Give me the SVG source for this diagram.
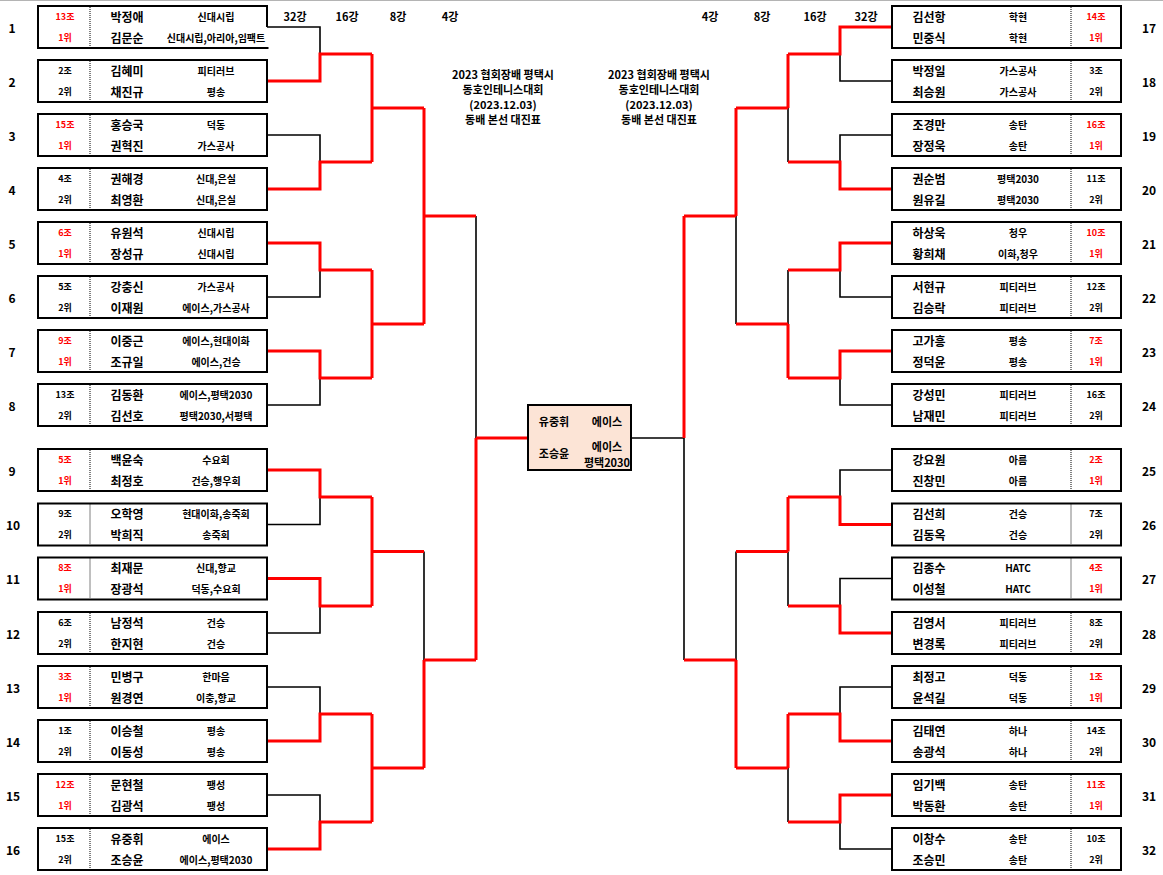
<svg xmlns="http://www.w3.org/2000/svg" width="1163" height="875" viewBox="0 0 1163 875">
<style>
text{font-family:"Noto Sans CJK KR","Noto Sans",sans-serif;font-weight:700;fill:#000;dominant-baseline:central;text-anchor:middle}
.box{fill:#fff;stroke:#000;stroke-width:2}
.dot{stroke:#000;stroke-width:1;stroke-dasharray:1 1}
.nm{font-size:12px}
.cl{font-size:10px}
.gr{font-size:9px}
.no{font-size:12px}
.rd{fill:#ff0000}
.rnd{font-size:11px}
.ttl{font-size:11px}
.ct{font-size:11px}
.blk{fill:none;stroke:#000;stroke-width:1.6}
.red{fill:none;stroke:#ff0000;stroke-width:3}
</style>
<rect width="1163" height="875" fill="#fff"/>
<line x1="0" y1="0.5" x2="1163" y2="0.5" stroke="#b4b4b4" stroke-width="1"/>

<g id="round-labels">
<text class="rnd" x="295" y="16">32강</text>
<text class="rnd" x="347" y="16">16강</text>
<text class="rnd" x="398" y="16">8강</text>
<text class="rnd" x="450" y="16">4강</text>
<text class="rnd" x="710" y="16">4강</text>
<text class="rnd" x="762" y="16">8강</text>
<text class="rnd" x="815" y="16">16강</text>
<text class="rnd" x="866" y="16">32강</text>
</g>

<g id="title-left">
<text class="ttl" x="503" y="74">2023 협회장배 평택시</text>
<text class="ttl" x="503" y="89">동호인테니스대회</text>
<text class="ttl" x="503" y="104">(2023.12.03)</text>
<text class="ttl" x="503" y="119">동배 본선 대진표</text>
</g>
<g id="title-right">
<text class="ttl" x="659" y="74">2023 협회장배 평택시</text>
<text class="ttl" x="659" y="89">동호인테니스대회</text>
<text class="ttl" x="659" y="104">(2023.12.03)</text>
<text class="ttl" x="659" y="119">동배 본선 대진표</text>
</g>

<g id="connectors">
<path class="blk" d="M267,27 H320 V54 M268,135 H320 V162 M268,297 H320 V270 M268,405 H320 V378 M476,216 V438 M268,524.5 H320 V497 M268,633 H320 V606 M424,551.5 V660 M268,687 H320 V714 M268,795 H320 V822"/>
<path class="blk" d="M891,81 H840 V54 M788,108 V162 M891,135 H840 V162 M736,216 V324 M684,438 V660 M684,438 H632 M891,297 H840 V270 M788,270 V324 M891,405 H840 V378 M891,470 H840 V497 M788,551.5 V606 M891,578.5 H840 V606 M736,551.5 V660 M788,768 V822 M891,687 H840 V714 M891,849 H840 V822"/>
<path class="red" d="M268,81 H320 V54 H372 M268,189 H320 V162 H372 M372,54 V162 M372,108 H424 M268,243 H320 V270 H372 M268,351 H320 V378 H372 M372,270 V378 M372,324 H424 M424,108 V324 M424,216 H476 M476,438 H527 M476,438 V660 M424,660 H476 M424,660 V768 M372,551.5 H424 M372,768 H424 M268,470 H320 V497 H372 M268,578.5 H320 V606 H372 M372,497 V606 M268,741 H320 V714 H372 M268,849 H320 V822 H372 M372,714 V822"/>
<path class="red" d="M891,27 H840 V54 H788 M788,54 V108 M891,189 H840 V162 H788 M788,108 H736 M736,108 V216 M736,216 H684 M684,216 V438 M891,243 H840 V270 H788 M788,324 V378 M891,351 H840 V378 H788 M788,324 H736 M891,524.5 H840 V497 H788 M788,497 V551.5 M891,633 H840 V606 H788 M788,551.5 H736 M736,660 V768 M736,660 H684 M736,768 H788 M788,714 V768 M891,741 H840 V714 H788 M891,795 H840 V822 H788"/>
</g>

<g id="final">
<rect x="528" y="405" width="103" height="65" fill="#fce4d6" stroke="#000" stroke-width="2"/>
<text class="ct" x="554" y="421">유중휘</text>
<text class="ct" x="607" y="421">에이스</text>
<text class="ct" x="554" y="453">조승윤</text>
<text class="ct" x="607" y="446">에이스</text>
<text class="ct" x="607" y="462">평택2030</text>
</g>

<g id="p1" transform="translate(0,5)">
<path d="M267,22 V1 H38 V43 H268.5" fill="#fff" stroke="#000" stroke-width="2"/><line class="dot" x1="90" y1="2" x2="90" y2="42"/>
<text class="no" x="12" y="22">1</text>
<text class="gr rd" x="65" y="11">13조</text><text class="gr rd" x="65" y="32">1위</text>
<text class="nm" x="127" y="11">박정애</text><text class="cl" x="216" y="11">신대시립</text>
<text class="nm" x="127" y="32">김문순</text><text class="cl" x="216" y="32">신대시립,아리아,임팩트</text>
</g>
<g id="p2" transform="translate(0,59)">
<rect class="box" x="38" y="1" width="229" height="42"/><line class="dot" x1="90" y1="2" x2="90" y2="42"/>
<text class="no" x="12" y="22">2</text>
<text class="gr" x="65" y="11">2조</text><text class="gr" x="65" y="32">2위</text>
<text class="nm" x="127" y="11">김혜미</text><text class="cl" x="216" y="11">피티러브</text>
<text class="nm" x="127" y="32">채진규</text><text class="cl" x="216" y="32">평송</text>
</g>
<g id="p3" transform="translate(0,113)">
<rect class="box" x="38" y="1" width="229" height="42"/><line class="dot" x1="90" y1="2" x2="90" y2="42"/>
<text class="no" x="12" y="22">3</text>
<text class="gr rd" x="65" y="11">15조</text><text class="gr rd" x="65" y="32">1위</text>
<text class="nm" x="127" y="11">홍승국</text><text class="cl" x="216" y="11">덕동</text>
<text class="nm" x="127" y="32">권혁진</text><text class="cl" x="216" y="32">가스공사</text>
</g>
<g id="p4" transform="translate(0,167)">
<rect class="box" x="38" y="1" width="229" height="42"/><line class="dot" x1="90" y1="2" x2="90" y2="42"/>
<text class="no" x="12" y="22">4</text>
<text class="gr" x="65" y="11">4조</text><text class="gr" x="65" y="32">2위</text>
<text class="nm" x="127" y="11">권해경</text><text class="cl" x="216" y="11">신대,은실</text>
<text class="nm" x="127" y="32">최영환</text><text class="cl" x="216" y="32">신대,은실</text>
</g>
<g id="p5" transform="translate(0,221)">
<rect class="box" x="38" y="1" width="229" height="42"/><line class="dot" x1="90" y1="2" x2="90" y2="42"/>
<text class="no" x="12" y="22">5</text>
<text class="gr rd" x="65" y="11">6조</text><text class="gr rd" x="65" y="32">1위</text>
<text class="nm" x="127" y="11">유원석</text><text class="cl" x="216" y="11">신대시립</text>
<text class="nm" x="127" y="32">장성규</text><text class="cl" x="216" y="32">신대시립</text>
</g>
<g id="p6" transform="translate(0,275)">
<rect class="box" x="38" y="1" width="229" height="42"/><line class="dot" x1="90" y1="2" x2="90" y2="42"/>
<text class="no" x="12" y="22">6</text>
<text class="gr" x="65" y="11">5조</text><text class="gr" x="65" y="32">2위</text>
<text class="nm" x="127" y="11">강충신</text><text class="cl" x="216" y="11">가스공사</text>
<text class="nm" x="127" y="32">이재원</text><text class="cl" x="216" y="32">에이스,가스공사</text>
</g>
<g id="p7" transform="translate(0,329)">
<rect class="box" x="38" y="1" width="229" height="42"/><line class="dot" x1="90" y1="2" x2="90" y2="42"/>
<text class="no" x="12" y="22">7</text>
<text class="gr rd" x="65" y="11">9조</text><text class="gr rd" x="65" y="32">1위</text>
<text class="nm" x="127" y="11">이중근</text><text class="cl" x="216" y="11">에이스,현대이화</text>
<text class="nm" x="127" y="32">조규일</text><text class="cl" x="216" y="32">에이스,건승</text>
</g>
<g id="p8" transform="translate(0,383)">
<rect class="box" x="38" y="1" width="229" height="42"/><line class="dot" x1="90" y1="2" x2="90" y2="42"/>
<text class="no" x="12" y="22">8</text>
<text class="gr" x="65" y="11">13조</text><text class="gr" x="65" y="32">2위</text>
<text class="nm" x="127" y="11">김동환</text><text class="cl" x="216" y="11">에이스,평택2030</text>
<text class="nm" x="127" y="32">김선호</text><text class="cl" x="216" y="32">평택2030,서평택</text>
</g>
<g id="p9" transform="translate(0,448)">
<rect class="box" x="38" y="1" width="229" height="42"/><line class="dot" x1="90" y1="2" x2="90" y2="42"/>
<text class="no" x="12" y="22">9</text>
<text class="gr rd" x="65" y="11">5조</text><text class="gr rd" x="65" y="32">1위</text>
<text class="nm" x="127" y="11">백윤숙</text><text class="cl" x="216" y="11">수요회</text>
<text class="nm" x="127" y="32">최정호</text><text class="cl" x="216" y="32">건승,행우회</text>
</g>
<g id="p10" transform="translate(0,502.5)">
<rect class="box" x="38" y="1" width="229" height="42"/><line class="dot" x1="90" y1="2" x2="90" y2="42"/>
<text class="no" x="13" y="22">10</text>
<text class="gr" x="65" y="11">9조</text><text class="gr" x="65" y="32">2위</text>
<text class="nm" x="127" y="11">오학영</text><text class="cl" x="216" y="11">현대이화,송죽회</text>
<text class="nm" x="127" y="32">박희직</text><text class="cl" x="216" y="32">송죽회</text>
</g>
<g id="p11" transform="translate(0,556.5)">
<rect class="box" x="38" y="1" width="229" height="42"/><line class="dot" x1="90" y1="2" x2="90" y2="42"/>
<text class="no" x="13" y="22">11</text>
<text class="gr rd" x="65" y="11">8조</text><text class="gr rd" x="65" y="32">1위</text>
<text class="nm" x="127" y="11">최재문</text><text class="cl" x="216" y="11">신대,향교</text>
<text class="nm" x="127" y="32">장광석</text><text class="cl" x="216" y="32">덕동,수요회</text>
</g>
<g id="p12" transform="translate(0,611)">
<rect class="box" x="38" y="1" width="229" height="42"/><line class="dot" x1="90" y1="2" x2="90" y2="42"/>
<text class="no" x="13" y="22">12</text>
<text class="gr" x="65" y="11">6조</text><text class="gr" x="65" y="32">2위</text>
<text class="nm" x="127" y="11">남정석</text><text class="cl" x="216" y="11">건승</text>
<text class="nm" x="127" y="32">한지현</text><text class="cl" x="216" y="32">건승</text>
</g>
<g id="p13" transform="translate(0,665)">
<rect class="box" x="38" y="1" width="229" height="42"/><line class="dot" x1="90" y1="2" x2="90" y2="42"/>
<text class="no" x="13" y="22">13</text>
<text class="gr rd" x="65" y="11">3조</text><text class="gr rd" x="65" y="32">1위</text>
<text class="nm" x="127" y="11">민병구</text><text class="cl" x="216" y="11">한마음</text>
<text class="nm" x="127" y="32">원경연</text><text class="cl" x="216" y="32">이충,향교</text>
</g>
<g id="p14" transform="translate(0,719)">
<rect class="box" x="38" y="1" width="229" height="42"/><line class="dot" x1="90" y1="2" x2="90" y2="42"/>
<text class="no" x="13" y="22">14</text>
<text class="gr" x="65" y="11">1조</text><text class="gr" x="65" y="32">2위</text>
<text class="nm" x="127" y="11">이승철</text><text class="cl" x="216" y="11">평송</text>
<text class="nm" x="127" y="32">이동성</text><text class="cl" x="216" y="32">평송</text>
</g>
<g id="p15" transform="translate(0,773)">
<rect class="box" x="38" y="1" width="229" height="42"/><line class="dot" x1="90" y1="2" x2="90" y2="42"/>
<text class="no" x="13" y="22">15</text>
<text class="gr rd" x="65" y="11">12조</text><text class="gr rd" x="65" y="32">1위</text>
<text class="nm" x="127" y="11">문현철</text><text class="cl" x="216" y="11">팽성</text>
<text class="nm" x="127" y="32">김광석</text><text class="cl" x="216" y="32">팽성</text>
</g>
<g id="p16" transform="translate(0,827)">
<rect class="box" x="38" y="1" width="229" height="42"/><line class="dot" x1="90" y1="2" x2="90" y2="42"/>
<text class="no" x="13" y="22">16</text>
<text class="gr" x="65" y="11">15조</text><text class="gr" x="65" y="32">2위</text>
<text class="nm" x="127" y="11">유중휘</text><text class="cl" x="216" y="11">에이스</text>
<text class="nm" x="127" y="32">조승윤</text><text class="cl" x="216" y="32">에이스,평택2030</text>
</g>

<g id="p17" transform="translate(0,5)">
<rect class="box" x="892" y="1" width="229" height="42"/><line class="dot" x1="1071" y1="2" x2="1071" y2="42"/>
<text class="no" x="1149" y="22">17</text>
<text class="nm" x="929" y="11">김선항</text><text class="cl" x="1018" y="11">학현</text>
<text class="nm" x="929" y="32">민중식</text><text class="cl" x="1018" y="32">학현</text>
<text class="gr rd" x="1096" y="11">14조</text><text class="gr rd" x="1096" y="32">1위</text>
</g>
<g id="p18" transform="translate(0,59)">
<rect class="box" x="892" y="1" width="229" height="42"/><line class="dot" x1="1071" y1="2" x2="1071" y2="42"/>
<text class="no" x="1149" y="22">18</text>
<text class="nm" x="929" y="11">박정일</text><text class="cl" x="1018" y="11">가스공사</text>
<text class="nm" x="929" y="32">최승원</text><text class="cl" x="1018" y="32">가스공사</text>
<text class="gr" x="1096" y="11">3조</text><text class="gr" x="1096" y="32">2위</text>
</g>
<g id="p19" transform="translate(0,113)">
<rect class="box" x="892" y="1" width="229" height="42"/><line class="dot" x1="1071" y1="2" x2="1071" y2="42"/>
<text class="no" x="1149" y="22">19</text>
<text class="nm" x="929" y="11">조경만</text><text class="cl" x="1018" y="11">송탄</text>
<text class="nm" x="929" y="32">장정욱</text><text class="cl" x="1018" y="32">송탄</text>
<text class="gr rd" x="1096" y="11">16조</text><text class="gr rd" x="1096" y="32">1위</text>
</g>
<g id="p20" transform="translate(0,167)">
<rect class="box" x="892" y="1" width="229" height="42"/><line class="dot" x1="1071" y1="2" x2="1071" y2="42"/>
<text class="no" x="1149" y="22">20</text>
<text class="nm" x="929" y="11">권순범</text><text class="cl" x="1018" y="11">평택2030</text>
<text class="nm" x="929" y="32">원유길</text><text class="cl" x="1018" y="32">평택2030</text>
<text class="gr" x="1096" y="11">11조</text><text class="gr" x="1096" y="32">2위</text>
</g>
<g id="p21" transform="translate(0,221)">
<rect class="box" x="892" y="1" width="229" height="42"/><line class="dot" x1="1071" y1="2" x2="1071" y2="42"/>
<text class="no" x="1149" y="22">21</text>
<text class="nm" x="929" y="11">하상욱</text><text class="cl" x="1018" y="11">청우</text>
<text class="nm" x="929" y="32">황희채</text><text class="cl" x="1018" y="32">이화,청우</text>
<text class="gr rd" x="1096" y="11">10조</text><text class="gr rd" x="1096" y="32">1위</text>
</g>
<g id="p22" transform="translate(0,275)">
<rect class="box" x="892" y="1" width="229" height="42"/><line class="dot" x1="1071" y1="2" x2="1071" y2="42"/>
<text class="no" x="1149" y="22">22</text>
<text class="nm" x="929" y="11">서현규</text><text class="cl" x="1018" y="11">피티러브</text>
<text class="nm" x="929" y="32">김승락</text><text class="cl" x="1018" y="32">피티러브</text>
<text class="gr" x="1096" y="11">12조</text><text class="gr" x="1096" y="32">2위</text>
</g>
<g id="p23" transform="translate(0,329)">
<rect class="box" x="892" y="1" width="229" height="42"/><line class="dot" x1="1071" y1="2" x2="1071" y2="42"/>
<text class="no" x="1149" y="22">23</text>
<text class="nm" x="929" y="11">고가흥</text><text class="cl" x="1018" y="11">평송</text>
<text class="nm" x="929" y="32">정덕윤</text><text class="cl" x="1018" y="32">평송</text>
<text class="gr rd" x="1096" y="11">7조</text><text class="gr rd" x="1096" y="32">1위</text>
</g>
<g id="p24" transform="translate(0,383)">
<rect class="box" x="892" y="1" width="229" height="42"/><line class="dot" x1="1071" y1="2" x2="1071" y2="42"/>
<text class="no" x="1149" y="22">24</text>
<text class="nm" x="929" y="11">강성민</text><text class="cl" x="1018" y="11">피티러브</text>
<text class="nm" x="929" y="32">남재민</text><text class="cl" x="1018" y="32">피티러브</text>
<text class="gr" x="1096" y="11">16조</text><text class="gr" x="1096" y="32">2위</text>
</g>
<g id="p25" transform="translate(0,448)">
<rect class="box" x="892" y="1" width="229" height="42"/><line class="dot" x1="1071" y1="2" x2="1071" y2="42"/>
<text class="no" x="1149" y="22">25</text>
<text class="nm" x="929" y="11">강요원</text><text class="cl" x="1018" y="11">아름</text>
<text class="nm" x="929" y="32">진창민</text><text class="cl" x="1018" y="32">아름</text>
<text class="gr rd" x="1096" y="11">2조</text><text class="gr rd" x="1096" y="32">1위</text>
</g>
<g id="p26" transform="translate(0,502.5)">
<rect class="box" x="892" y="1" width="229" height="42"/><line class="dot" x1="1071" y1="2" x2="1071" y2="42"/>
<text class="no" x="1149" y="22">26</text>
<text class="nm" x="929" y="11">김선희</text><text class="cl" x="1018" y="11">건승</text>
<text class="nm" x="929" y="32">김동옥</text><text class="cl" x="1018" y="32">건승</text>
<text class="gr" x="1096" y="11">7조</text><text class="gr" x="1096" y="32">2위</text>
</g>
<g id="p27" transform="translate(0,556.5)">
<rect class="box" x="892" y="1" width="229" height="42"/><line class="dot" x1="1071" y1="2" x2="1071" y2="42"/>
<text class="no" x="1149" y="22">27</text>
<text class="nm" x="929" y="11">김종수</text><text class="cl" x="1018" y="11">HATC</text>
<text class="nm" x="929" y="32">이성철</text><text class="cl" x="1018" y="32">HATC</text>
<text class="gr rd" x="1096" y="11">4조</text><text class="gr rd" x="1096" y="32">1위</text>
</g>
<g id="p28" transform="translate(0,611)">
<rect class="box" x="892" y="1" width="229" height="42"/><line class="dot" x1="1071" y1="2" x2="1071" y2="42"/>
<text class="no" x="1149" y="22">28</text>
<text class="nm" x="929" y="11">김영서</text><text class="cl" x="1018" y="11">피티러브</text>
<text class="nm" x="929" y="32">변경록</text><text class="cl" x="1018" y="32">피티러브</text>
<text class="gr" x="1096" y="11">8조</text><text class="gr" x="1096" y="32">2위</text>
</g>
<g id="p29" transform="translate(0,665)">
<rect class="box" x="892" y="1" width="229" height="42"/><line class="dot" x1="1071" y1="2" x2="1071" y2="42"/>
<text class="no" x="1149" y="22">29</text>
<text class="nm" x="929" y="11">최정고</text><text class="cl" x="1018" y="11">덕동</text>
<text class="nm" x="929" y="32">윤석길</text><text class="cl" x="1018" y="32">덕동</text>
<text class="gr rd" x="1096" y="11">1조</text><text class="gr rd" x="1096" y="32">1위</text>
</g>
<g id="p30" transform="translate(0,719)">
<rect class="box" x="892" y="1" width="229" height="42"/><line class="dot" x1="1071" y1="2" x2="1071" y2="42"/>
<text class="no" x="1149" y="22">30</text>
<text class="nm" x="929" y="11">김태연</text><text class="cl" x="1018" y="11">하나</text>
<text class="nm" x="929" y="32">송광석</text><text class="cl" x="1018" y="32">하나</text>
<text class="gr" x="1096" y="11">14조</text><text class="gr" x="1096" y="32">2위</text>
</g>
<g id="p31" transform="translate(0,773)">
<rect class="box" x="892" y="1" width="229" height="42"/><line class="dot" x1="1071" y1="2" x2="1071" y2="42"/>
<text class="no" x="1149" y="22">31</text>
<text class="nm" x="929" y="11">임기백</text><text class="cl" x="1018" y="11">송탄</text>
<text class="nm" x="929" y="32">박동환</text><text class="cl" x="1018" y="32">송탄</text>
<text class="gr rd" x="1096" y="11">11조</text><text class="gr rd" x="1096" y="32">1위</text>
</g>
<g id="p32" transform="translate(0,827)">
<rect class="box" x="892" y="1" width="229" height="42"/><line class="dot" x1="1071" y1="2" x2="1071" y2="42"/>
<text class="no" x="1149" y="22">32</text>
<text class="nm" x="929" y="11">이창수</text><text class="cl" x="1018" y="11">송탄</text>
<text class="nm" x="929" y="32">조승민</text><text class="cl" x="1018" y="32">송탄</text>
<text class="gr" x="1096" y="11">10조</text><text class="gr" x="1096" y="32">2위</text>
</g>
</svg>
